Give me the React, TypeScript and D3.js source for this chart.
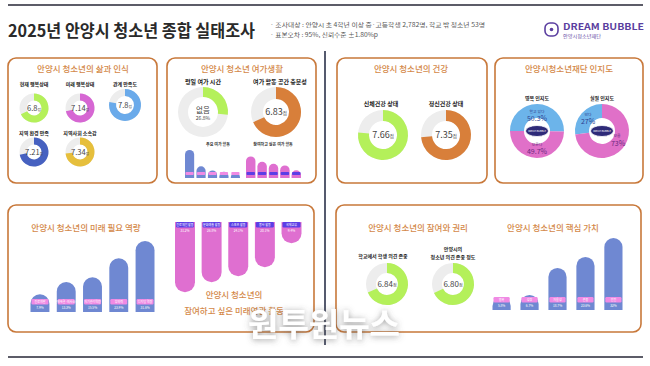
import * as d3 from "d3";

// ---- data ----
const lifeLabels = ["현재 행복상태", "미래 행복상태", "관계 만족도", "지역 환경 만족", "지역사회 소속감"];
const lifeScores = [6.8, 7.14, 7.8, 7.21, 7.34];
const lifeDigits = [1, 2, 1, 2, 2];

const weekdayNoLeisure = 26.8; // %
const leisureSpaceScore = 6.83;
const mainLeisureLabels = ["휴식", "게임", "운동", "TV시청", "기타"];
const mainLeisureValues = [38.6, 16.1, 10.4, 8.5, 7.2];
const wantLeisureLabels = ["여행", "체험", "운동", "문화", "취미"];
const wantLeisureValues = [29.8, 22.4, 19.5, 17.3, 10.6];

const healthLabels = ["신체건강 상태", "정신건강 상태"];
const healthScores = [7.66, 7.35];

const awarenessLabels = ["명목 인지도", "실질 인지도"];
const awarenessKnown = [50.3, 27];
const awarenessUnknown = [49.7, 73];

const competencyLabels = ["진로개발", "문제해결·의사소통", "자기관리역량", "창의력", "디지털 역량"];
const competencyValues = [7.9, 13.3, 15.5, 23.9, 31.6];

const activityLabels = ["진로체험 활동", "문화예술 활동", "스포츠 활동", "봉사 활동", "국제교류"];
const activityValues = [31.2, 26.8, 24.1, 20.1, 9.4];

const rightsLabels = ["학교에서 학생 의견 존중", "청소년 의견 존중 정도"];
const rightsScores = [6.84, 6.8];

const valueLabels = ["행복", "성장", "자율성", "존중", "안전"];
const valueValues = [5.8, 6.7, 18.7, 23.6, 32.0];

// ---- styles ----
const FONT = "'Noto Sans CJK KR', 'Noto Sans', sans-serif";
const BORDER = "#c8783a";
const TITLE = "#d4894a";
const TRACK = "#ededed";
const lifeColors = ["#b4f05a", "#d667d3", "#6aaaea", "#4661c0", "#e6bf3c"];
const GREEN = "#b4f05a";
const ORANGE = "#d87f3a";
const BAR_BLUE = "#6f88d2";
const BAR_PINK = "#df6fd0";
const TAG_PINK = "#f08ae4";
const TAG_PURPLE = "#5b3ee6";

const pct = d3.scaleLinear().domain([0, 35]).range([0, 78.75]);
const mini = d3.scaleLinear().domain([0, 40]).range([0, 29]);

function arcPath(ri: number, ro: number, a0: number, a1: number) {
  return d3.arc()({ innerRadius: ri, outerRadius: ro, startAngle: a0, endAngle: a1 } as any) || "";
}

function topRound(x: number, w: number, yb: number, h: number) {
  const rx = w / 2;
  const ry = Math.min(rx, h);
  return `M${x},${yb}L${x},${yb - h + ry}A${rx},${ry} 0 0 1 ${x + w},${yb - h + ry}L${x + w},${yb}Z`;
}

function bottomRound(x: number, w: number, yt: number, h: number) {
  const rx = w / 2;
  const ry = Math.min(rx, h);
  return `M${x},${yt}L${x + w},${yt}L${x + w},${yt + h - ry}A${rx},${ry} 0 0 1 ${x},${yt + h - ry}Z`;
}

const Panel = ({ x, y, w, h }: { x: number; y: number; w: number; h: number }) => (
  <rect x={x} y={y} width={w} height={h} rx={8} fill="#fff" stroke={BORDER} strokeWidth={1.6} />
);

const PTitle = ({ x, y, t, size = 8.5 }: { x: number; y: number; t: string; size?: number }) => (
  <text x={x} y={y} textAnchor="middle" fontSize={size} fill={TITLE} fontWeight={500}>
    {t}
  </text>
);

const Label = ({ x, y, t, size = 5.5 }: { x: number; y: number; t: string; size?: number }) => (
  <text x={x} y={y} textAnchor="middle" fontSize={size} fill="#222" fontWeight={700}>
    {t}
  </text>
);

const ScoreDonut = ({
  cx, cy, r, ri, score, digits, color, fs = 8,
}: { cx: number; cy: number; r: number; ri: number; score: number; digits: number; color: string; fs?: number }) => (
  <g transform={`translate(${cx},${cy})`}>
    <path d={arcPath(ri, r, 0, Math.PI * 2)} fill={TRACK} />
    <path d={arcPath(ri, r, 0, (score / 10) * Math.PI * 2)} fill={color} />
    <text x={0} y={fs * 0.36} textAnchor="middle" fill="#444" fontSize={fs}>
      <tspan>{score.toFixed(digits)}</tspan>
      <tspan fontSize={fs * 0.5}>점</tspan>
    </text>
  </g>
);

const BarLabels = ({
  x, w, y, label, value, tag,
}: { x: number; w: number; y: number; label: string; value: number; tag: string }) => (
  <g>
    <rect x={x + 1} y={y} width={w - 2} height={5.5} rx={1.2} fill={tag} />
    <text x={x + w / 2} y={y + 4} textAnchor="middle" fontSize={3} fill="#fff">
      {label}
    </text>
    <text x={x + w / 2} y={y + 9.5} textAnchor="middle" fontSize={3.2} fill="#fff">
      {value}%
    </text>
  </g>
);

const UpBars = ({
  labels, values, range, pad, base, color, tag, scale, tags = true,
}: {
  labels: string[]; values: number[]; range: [number, number]; pad: number; base: number;
  color: string; tag: string; scale: d3.ScaleLinear<number, number>; tags?: boolean;
}) => {
  const x = d3.scaleBand().domain(labels).range(range).paddingInner(pad);
  const w = x.bandwidth();
  return (
    <g>
      {labels.map((l, i) => {
        const h = scale(values[i]);
        const bx = x(l) || 0;
        return (
          <g key={l}>
            <path d={topRound(bx, w, base, h)} fill={color} />
            {tags ? (
              <BarLabels x={bx} w={w} y={base - 13} label={l} value={values[i]} tag={tag} />
            ) : (
              <rect x={bx + 0.5} y={base - 6} width={w - 1} height={3} rx={0.8} fill={tag} />
            )}
          </g>
        );
      })}
    </g>
  );
};

export default function App() {
  const awR = 27;
  const awRi = 13;
  const awCenters = [
    [537, 131],
    [602, 131],
  ];

  const actX = d3.scaleBand().domain(activityLabels).range([175, 301.5]).paddingInner(0.25);
  const actW = actX.bandwidth();

  return (
    <div style={{ position: "fixed", left: 0, top: 0 }}>
      <svg width={650} height={366} fontFamily={FONT} style={{ display: "block", background: "#fff" }}>
        <defs>
          <filter id="wm" x="-20%" y="-40%" width="140%" height="180%">
            <feDropShadow dx="0" dy="1" stdDeviation="3" floodColor="#555" floodOpacity="0.6" />
          </filter>
        </defs>

        {/* header */}
        <line x1={8} x2={643} y1={5} y2={5} stroke="#5c5c68" strokeWidth={2} />
        <text x={8} y={37} fontSize={17} fontWeight={700} fill="#2a2a2a" textLength={247} lengthAdjust="spacingAndGlyphs">
          2025년 안양시 청소년 종합 실태조사
        </text>
        <text x={270} y={27} fontSize={5.6} fill="#555" textLength={215} lengthAdjust="spacingAndGlyphs">
          · 조사대상 : 안양시 초 4학년 이상 중·고등학생 2,782명, 학교 밖 청소년 53명
        </text>
        <text x={270} y={37} fontSize={5.6} fill="#555" textLength={108} lengthAdjust="spacingAndGlyphs">
          · 표본오차 : 95%, 신뢰수준 ±1.80%p
        </text>
        <rect x={545} y={23} width={13} height={13} rx={5} fill="none" stroke="#5b3fa0" strokeWidth={1.6} />
        <circle cx={551.5} cy={29.5} r={1.8} fill="#5b3fa0" />
        <text x={563} y={30} fontSize={9} fontWeight={700} fill="#5b3fa0" textLength={81} lengthAdjust="spacingAndGlyphs">
          DREAM BUBBLE
        </text>
        <text x={563} y={38} fontSize={5} fill="#5b3fa0" textLength={38} lengthAdjust="spacingAndGlyphs">
          안양시청소년재단
        </text>

        {/* divider */}
        <line x1={325} x2={325} y1={51} y2={345} stroke="#555a6e" strokeWidth={2} />
        <line x1={8} x2={643} y1={357} y2={357} stroke="#5c5c68" strokeWidth={2} />

        {/* panel 1 */}
        <Panel x={8} y={58} w={149} h={125} />
        <PTitle x={83} y={72} t="안양시 청소년의 삶과 인식" />
        {lifeLabels.map((l, i) => {
          const pos = [
            [34, 108],
            [80, 108],
            [125, 105],
            [34, 152],
            [80, 152],
          ][i];
          const r = i === 2 ? 16 : 14.5;
          return (
            <g key={l}>
              <Label x={pos[0]} y={i < 3 ? 86 : 135} t={l} size={5} />
              <ScoreDonut cx={pos[0]} cy={pos[1]} r={r} ri={r - 7} score={lifeScores[i]} digits={lifeDigits[i]} color={lifeColors[i]} fs={7.5} />
            </g>
          );
        })}

        {/* panel 2 */}
        <Panel x={167} y={58} w={149} h={125} />
        <PTitle x={242} y={72} t="안양시 청소년 여가생활" />
        <Label x={203} y={84} t="평일 여가 시간" size={6} />
        <Label x={280} y={84} t="여가 활동 공간 충분성" size={6} />
        <g transform="translate(203,112)">
          <path d={arcPath(15, 25, 0, Math.PI * 2)} fill={TRACK} />
          <path d={arcPath(15, 25, 0, (weekdayNoLeisure / 100) * Math.PI * 2)} fill={GREEN} />
          <text y={1} textAnchor="middle" fontSize={7.5} fill="#444">없음</text>
          <text y={8} textAnchor="middle" fontSize={5} fill="#444">{weekdayNoLeisure}%</text>
        </g>
        <ScoreDonut cx={276} cy={112} r={25} ri={13} score={leisureSpaceScore} digits={2} color={ORANGE} fs={9} />
        <text x={218} y={146} textAnchor="middle" fontSize={4} fill="#333" fontWeight={700}>주요 여가 활동</text>
        <text x={273} y={146} textAnchor="middle" fontSize={4} fill="#333" fontWeight={700}>참여하고 싶은 여가 활동</text>
        <UpBars labels={mainLeisureLabels} values={mainLeisureValues} range={[185, 240]} pad={0.2} base={178} color={BAR_BLUE} tag={TAG_PINK} scale={mini} tags={false} />
        <UpBars labels={wantLeisureLabels} values={wantLeisureValues} range={[246, 301]} pad={0.17} base={178} color={BAR_PINK} tag={TAG_PURPLE} scale={mini} tags={false} />

        {/* panel 3 */}
        <Panel x={337} y={58} w={150} h={125} />
        <PTitle x={411} y={72} t="안양시 청소년의 건강" />
        {healthLabels.map((l, i) => (
          <g key={l}>
            <Label x={i ? 446 : 381} y={106} t={l} size={6} />
            <ScoreDonut cx={i ? 446 : 383} cy={135} r={25} ri={14} score={healthScores[i]} digits={2} color={i ? ORANGE : GREEN} fs={9} />
          </g>
        ))}

        {/* panel 4 */}
        <Panel x={495} y={58} w={148} h={125} />
        <PTitle x={569} y={72} t="안양시청소년재단 인지도" />
        {awarenessLabels.map((l, i) => {
          const [cx, cy] = awCenters[i];
          const k = (awarenessKnown[i] / 100) * Math.PI * 2;
          const u = (awarenessUnknown[i] / 100) * Math.PI * 2;
          const start = i === 0 ? -Math.PI / 2 : -k;
          return (
            <g key={l}>
              <Label x={cx} y={100} t={l} size={5} />
              <g transform={`translate(${cx},${cy})`}>
                <path d={arcPath(awRi, awR, start, start + k)} fill="#6cb4ea" />
                <path d={arcPath(awRi, awR, start + k, start + k + u)} fill="#e070c8" />
                <ellipse rx={11.5} ry={5.5} fill="#2e2a78" stroke="#fff" strokeWidth={0.8} />
                <text y={1} textAnchor="middle" fontSize={2.4} fill="#fff">DREAM BUBBLE</text>
                {i === 0 ? (
                  <>
                    <text y={-18.5} textAnchor="middle" fontSize={3.8} fill="#2d3f90">알고 있다</text>
                    <text y={-10} textAnchor="middle" fontSize={7} fill="#2d3f90">{awarenessKnown[i]}%</text>
                    <text y={15} textAnchor="middle" fontSize={3.8} fill="#6a2a80">모른다</text>
                    <text y={23} textAnchor="middle" fontSize={7} fill="#6a2a80">{awarenessUnknown[i]}%</text>
                  </>
                ) : (
                  <>
                    <text x={-14} y={-15.5} textAnchor="middle" fontSize={3.8} fill="#2d3f90">안다</text>
                    <text x={-14} y={-7} textAnchor="middle" fontSize={7} fill="#2d3f90">{awarenessKnown[i]}%</text>
                    <text x={15} y={6} textAnchor="middle" fontSize={3.8} fill="#6a2a80">모름</text>
                    <text x={16} y={14.5} textAnchor="middle" fontSize={7} fill="#6a2a80">{awarenessUnknown[i]}%</text>
                  </>
                )}
              </g>
            </g>
          );
        })}

        {/* panel 5 */}
        <Panel x={8} y={205} w={306} h={127} />
        <PTitle x={86} y={231} t="안양시 청소년의 미래 필요 역량" />
        <UpBars labels={competencyLabels} values={competencyValues} range={[30.5, 154.5]} pad={0.28} base={312} color={BAR_BLUE} tag={TAG_PINK} scale={pct} />
        {activityLabels.map((l, i) => {
          const bx = actX(l) || 0;
          return (
            <g key={l}>
              <path d={bottomRound(bx, actW, 222, pct(activityValues[i]))} fill={BAR_PINK} />
              <rect x={bx + 1} y={222} width={actW - 2} height={5.5} rx={1.2} fill={TAG_PURPLE} />
              <text x={bx + actW / 2} y={226} textAnchor="middle" fontSize={3} fill="#fff">{l}</text>
              <text x={bx + actW / 2} y={232} textAnchor="middle" fontSize={3.2} fill="#fff">{activityValues[i]}%</text>
            </g>
          );
        })}
        <PTitle x={234} y={298} t="안양시 청소년의" />
        <PTitle x={234} y={314} t="참여하고 싶은 미래연관 활동" />

        {/* panel 6 */}
        <Panel x={336} y={205} w={305} h={127} />
        <PTitle x={418} y={231} t="안양시 청소년의 참여와 권리" />
        <Label x={383} y={258} t={rightsLabels[0]} size={5} />
        <Label x={453} y={251} t="안양시의" size={5} />
        <Label x={453} y={259} t={rightsLabels[1]} size={5} />
        {rightsScores.map((s, i) => (
          <ScoreDonut key={i} cx={i ? 453 : 387} cy={284} r={21} ri={11} score={s} digits={2} color={GREEN} fs={8} />
        ))}
        <PTitle x={553} y={231} t="안양시 청소년의 핵심 가치" />
        <UpBars labels={valueLabels} values={valueValues} range={[492.5, 622.5]} pad={0.35} base={310} color={BAR_BLUE} tag={TAG_PINK} scale={pct} />

        {/* watermark */}
        <text x={324} y={336} textAnchor="middle" fontSize={32} fontWeight={700} fill="#fff" filter="url(#wm)" textLength={152} lengthAdjust="spacingAndGlyphs">
          원투원뉴스
        </text>
      </svg>
    </div>
  );
}
